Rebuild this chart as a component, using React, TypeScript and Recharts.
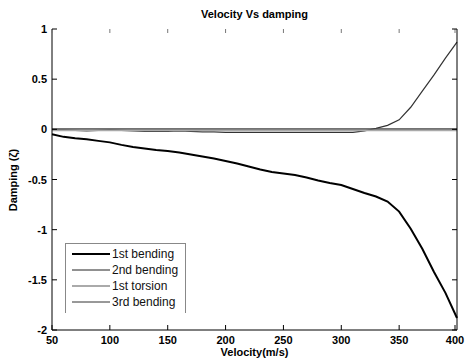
import React from "react";
import { LineChart, Line, XAxis, YAxis } from "recharts";

const velocity = [
  50, 60, 70, 80, 90, 100, 110, 120, 130, 140, 150, 160, 170, 180, 190, 200, 210, 220,
  230, 240, 250, 260, 270, 280, 290, 300, 310, 320, 330, 340, 350, 360, 370, 380, 390, 400,
];

const firstBending = [
  -0.05, -0.075, -0.09, -0.1, -0.115, -0.13, -0.155, -0.175, -0.19, -0.205, -0.215, -0.23,
  -0.25, -0.27, -0.29, -0.315, -0.34, -0.37, -0.4, -0.425, -0.44, -0.455, -0.48, -0.51,
  -0.535, -0.555, -0.595, -0.635, -0.67, -0.72, -0.82, -0.99, -1.19, -1.42, -1.63, -1.88,
];

const secondBending = [
  -0.005, -0.005, -0.01, -0.015, -0.01, -0.005, -0.01, -0.015, -0.02, -0.02, -0.02, -0.015,
  -0.02, -0.025, -0.025, -0.03, -0.03, -0.03, -0.03, -0.03, -0.03, -0.03, -0.03, -0.03,
  -0.03, -0.03, -0.03, -0.015, 0.01, 0.04, 0.095, 0.22, 0.38, 0.54, 0.71, 0.87,
];

const firstTorsion = [
  -0.01, -0.01, -0.01, -0.01, -0.01, -0.01, -0.01, -0.01, -0.01, -0.01, -0.01, -0.01,
  -0.01, -0.01, -0.01, -0.01, -0.01, -0.01, -0.01, -0.01, -0.01, -0.01, -0.01, -0.01,
  -0.01, -0.01, -0.01, -0.01, -0.01, -0.01, -0.01, -0.01, -0.01, -0.01, -0.01, -0.01,
];

const thirdBending = [
  0.005, 0.005, 0.005, 0.005, 0.005, 0.005, 0.005, 0.005, 0.005, 0.005, 0.005, 0.005,
  0.005, 0.005, 0.005, 0.005, 0.005, 0.005, 0.005, 0.005, 0.005, 0.005, 0.005, 0.005,
  0.005, 0.005, 0.005, 0.005, 0.005, 0.005, 0.005, 0.005, 0.005, 0.005, 0.005, 0.005,
];

const xTicks = [50, 100, 150, 200, 250, 300, 350, 400];
const yTicks = [-2, -1.5, -1, -0.5, 0, 0.5, 1];

const seriesNames = ["1st bending", "2nd bending", "1st torsion", "3rd bending"];

const data = velocity.map((v, i) => ({
  velocity: v,
  b1: firstBending[i],
  b2: secondBending[i],
  t1: firstTorsion[i],
  b3: thirdBending[i],
}));

const font = "'Liberation Sans', Arial, sans-serif";

const legendStyles = [
  { stroke: "#000", width: 2 },
  { stroke: "#222", width: 1 },
  { stroke: "#aaa", width: 2 },
  { stroke: "#333", width: 1 },
];

const BottomTick = ({ x, y, payload }: any) => (
  <g>
    <line x1={x} x2={x} y1={y} y2={y - 5} stroke="#000" />
    <text x={x} y={y + 14} textAnchor="middle" fontSize={11} fontWeight="bold" fontFamily={font} fill="#000">
      {payload.value}
    </text>
  </g>
);

const TopTick = ({ x, y }: any) => <line x1={x} x2={x} y1={y} y2={y + 4} stroke="#777" />;

const LeftTick = ({ x, y, payload }: any) => (
  <g>
    <line x1={x} x2={x + 5} y1={y} y2={y} stroke="#000" />
    <text x={x - 5} y={y + 4} textAnchor="end" fontSize={11} fontWeight="bold" fontFamily={font} fill="#000">
      {payload.value}
    </text>
  </g>
);

const RightTick = ({ x, y }: any) => <line x1={x} x2={x - 5} y1={y} y2={y} stroke="#000" />;

export default function App() {
  return (
    <div
      style={{
        position: "absolute",
        left: 0,
        top: 0,
        width: 467,
        height: 362,
        background: "#fff",
        fontFamily: font,
      }}
    >
      <LineChart width={467} height={362} data={data} margin={{ top: 0, right: 0, bottom: 0, left: 0 }}>
        <XAxis
          dataKey="velocity"
          type="number"
          domain={[50, 400]}
          ticks={xTicks}
          height={32}
          tickSize={0}
          tickMargin={0}
          tick={<BottomTick />}
          axisLine={{ stroke: "#000" }}
          tickLine={false}
        />
        <XAxis
          xAxisId="top"
          dataKey="velocity"
          type="number"
          orientation="top"
          domain={[50, 400]}
          ticks={xTicks}
          height={29}
          tickSize={0}
          tickMargin={0}
          tick={<TopTick />}
          axisLine={false}
          tickLine={false}
        />
        <YAxis
          type="number"
          domain={[-2, 1]}
          ticks={yTicks}
          width={52}
          tickSize={0}
          tickMargin={0}
          tick={<LeftTick />}
          axisLine={{ stroke: "#000" }}
          tickLine={false}
          allowDataOverflow
        />
        <YAxis
          yAxisId="right"
          orientation="right"
          type="number"
          domain={[-2, 1]}
          ticks={yTicks}
          width={10}
          tickSize={0}
          tickMargin={0}
          tick={<RightTick />}
          axisLine={{ stroke: "#000" }}
          tickLine={false}
          allowDataOverflow
        />
        <Line dataKey="b2" name={seriesNames[1]} stroke="#333" strokeWidth={1.2} dot={false} isAnimationActive={false} />
        <Line dataKey="t1" name={seriesNames[2]} stroke="#aaa" strokeWidth={2} dot={false} isAnimationActive={false} />
        <Line dataKey="b3" name={seriesNames[3]} stroke="#444" strokeWidth={1.2} dot={false} isAnimationActive={false} />
        <Line dataKey="b1" name={seriesNames[0]} stroke="#000" strokeWidth={2} dot={false} isAnimationActive={false} />
      </LineChart>

      <div
        style={{
          position: "absolute",
          left: 0,
          width: 509,
          top: 8,
          textAlign: "center",
          fontSize: 11,
          fontWeight: "bold",
        }}
      >
        Velocity Vs damping
      </div>
      <div
        style={{
          position: "absolute",
          left: 0,
          width: 509,
          top: 346,
          textAlign: "center",
          fontSize: 11,
          fontWeight: "bold",
        }}
      >
        Velocity(m/s)
      </div>
      <div
        style={{
          position: "absolute",
          left: 13,
          top: 180,
          transform: "translate(-50%, -50%) rotate(-90deg)",
          whiteSpace: "nowrap",
          fontSize: 11,
          fontWeight: "bold",
        }}
      >
        Damping (ζ)
      </div>

      <div
        style={{
          position: "absolute",
          left: 65,
          top: 243,
          width: 119,
          height: 69,
          borderLeft: "1px solid #888",
          borderTop: "1px solid #888",
          borderRight: "1px solid #888",
          background: "#fff",
        }}
      >
        {seriesNames.map((name, i) => (
          <div key={name} style={{ position: "absolute", left: 0, top: 2 + i * 16, height: 16, width: 119 }}>
            <svg width={40} height={16} style={{ position: "absolute", left: 6, top: 0 }}>
              <line x1={0} x2={38} y1={8} y2={8} stroke={legendStyles[i].stroke} strokeWidth={legendStyles[i].width} />
            </svg>
            <span
              style={{
                position: "absolute",
                left: 46,
                top: 0,
                lineHeight: "16px",
                fontSize: 12,
                color: "#111",
                whiteSpace: "nowrap",
              }}
            >
              {name}
            </span>
          </div>
        ))}
      </div>
    </div>
  );
}
